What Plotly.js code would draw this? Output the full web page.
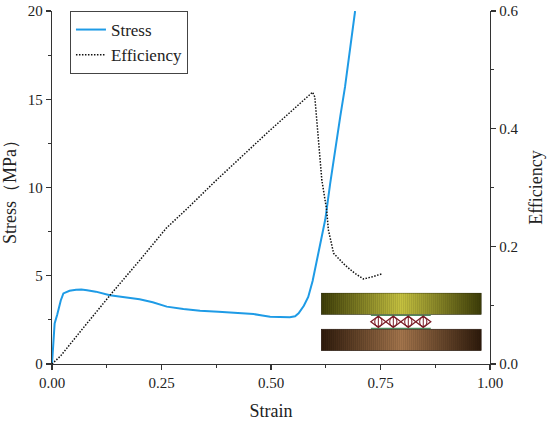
<!DOCTYPE html>
<html>
<head>
<meta charset="utf-8">
<script src="https://cdn.plot.ly/plotly-3.0.1.min.js"></script>
<style>
html,body{margin:0;padding:0;background:#fff;}
#chart{width:550px;height:421px;}
</style>
</head>
<body>
<div id="chart"></div>
<script>
// ---- data ----
const strainStress = [0, 0.003, 0.006, 0.012, 0.02, 0.026, 0.04, 0.055, 0.067, 0.08, 0.1, 0.132, 0.16, 0.2, 0.23, 0.262, 0.3, 0.338, 0.38, 0.414, 0.44, 0.46, 0.48, 0.498, 0.52, 0.543, 0.555, 0.563, 0.575, 0.585, 0.595, 0.605, 0.615, 0.624, 0.635, 0.646, 0.658, 0.669, 0.68, 0.692];
const stress = [0, 1.5, 2.3, 2.8, 3.6, 4.0, 4.15, 4.2, 4.22, 4.18, 4.1, 3.9, 3.8, 3.67, 3.5, 3.25, 3.12, 3.02, 2.96, 2.91, 2.9, 2.83, 2.75, 2.68, 2.66, 2.65, 2.7, 2.87, 3.3, 3.8, 4.7, 5.9, 7.0, 8.2, 10.2, 12.1, 14.0, 15.7, 17.8, 20.0];
const strainEff = [0, 0.02, 0.071, 0.136, 0.2, 0.261, 0.307, 0.376, 0.49, 0.595, 0.6, 0.616, 0.627, 0.631, 0.643, 0.669, 0.69, 0.711, 0.73, 0.752];
const efficiency = [0, 0.014, 0.061, 0.12, 0.176, 0.231, 0.263, 0.313, 0.392, 0.462, 0.454, 0.313, 0.262, 0.228, 0.188, 0.168, 0.155, 0.1445, 0.148, 0.153];
const strainTicks = [0, 0.25, 0.5, 0.75, 1.0];
const strainTickText = ["0.00", "0.25", "0.50", "0.75", "1.00"];
const seriesNames = ["Stress", "Efficiency"];

// ---- inset picture (decorative, drawn as inline SVG) ----
function insetSvg() {
  let cells = "";
  for (let i = 0; i < 4; i++) {
    const x0 = 50 + i * 15;
    cells += "<path d='M" + x0 + ",29 L" + (x0 + 7.5) + ",23.3 L" + (x0 + 15) + ",29 L" + (x0 + 7.5) + ",34.7 Z' fill='none' stroke='#7b1c26' stroke-width='1.3'/>";
    cells += "<ellipse cx='" + (x0 + 7.5) + "' cy='29' rx='3.6' ry='4.6' fill='none' stroke='#7b1c26' stroke-width='1.1'/>";
    cells += "<line x1='" + (x0 + 7.5) + "' y1='23.3' x2='" + (x0 + 7.5) + "' y2='34.7' stroke='#7b1c26' stroke-width='1'/>";
  }
  const svg = "<svg xmlns='http://www.w3.org/2000/svg' width='161' height='58' viewBox='0 0 161 58' preserveAspectRatio='none'>" +
    "<defs>" +
    "<linearGradient id='g1' x1='0' x2='1' y1='0' y2='0'><stop offset='0' stop-color='#3e3e08'/><stop offset='0.5' stop-color='#cbc742'/><stop offset='1' stop-color='#3e3e08'/></linearGradient>" +
    "<linearGradient id='g2' x1='0' x2='1' y1='0' y2='0'><stop offset='0' stop-color='#2e1a0b'/><stop offset='0.5' stop-color='#a8784e'/><stop offset='1' stop-color='#2e1a0b'/></linearGradient>" +
    "<pattern id='p' width='2' height='10' patternUnits='userSpaceOnUse'><rect width='1' height='10' fill='rgba(0,0,0,0.13)'/></pattern>" +
    "</defs>" +
    "<rect x='0.3' y='0.3' width='160.4' height='21.3' fill='url(#g1)' stroke='#2a2a10' stroke-width='0.6'/>" +
    "<rect x='0.3' y='0.3' width='160.4' height='21.3' fill='url(#p)'/>" +
    "<rect x='0.3' y='36.4' width='160.4' height='21.3' fill='url(#g2)' stroke='#24140a' stroke-width='0.6'/>" +
    "<rect x='0.3' y='36.4' width='160.4' height='21.3' fill='url(#p)'/>" +
    "<line x1='50' y1='22.6' x2='110' y2='22.6' stroke='#4f8a5c' stroke-width='1.1'/>" +
    "<line x1='50' y1='35.5' x2='110' y2='35.5' stroke='#4f8a5c' stroke-width='1.1'/>" +
    cells +
    "</svg>";
  return "data:image/svg+xml;charset=utf-8," + encodeURIComponent(svg);
}

const fontFam = "Liberation Serif, Times New Roman, serif";
const axisColor = "#333";

const traces = [
  {
    x: strainStress, y: stress, name: seriesNames[0], type: "scatter", mode: "lines",
    line: {color: "rgb(30,155,230)", width: 2}, yaxis: "y"
  },
  {
    x: strainEff, y: efficiency, name: seriesNames[1], type: "scatter", mode: "lines",
    line: {color: "#111", width: 1.5, dash: "1.5px,1.5px"}, yaxis: "y2"
  }
];

const layout = {
  width: 550, height: 421,
  margin: {l: 52, r: 60, t: 11, b: 57},
  paper_bgcolor: "#fff", plot_bgcolor: "#fff",
  font: {family: fontFam, size: 15, color: "#222"},
  showlegend: true,
  legend: {
    x: 0.041, y: 1, xanchor: "left", yanchor: "top",
    bordercolor: "#444", borderwidth: 1, bgcolor: "rgba(255,255,255,0)",
    font: {family: fontFam, size: 17, color: "#222"},
    tracegroupgap: 0
  },
  xaxis: {
    range: [0, 1], tickmode: "array", tickvals: strainTicks, ticktext: strainTickText,
    ticks: "outside", ticklen: 5, tickwidth: 1.2, tickcolor: axisColor,
    minor: {dtick: 0.125, tick0: 0, ticks: "outside", ticklen: 3, tickwidth: 1.2, tickcolor: axisColor, showgrid: false},
    showline: true, linecolor: axisColor, linewidth: 1.3, mirror: false,
    showgrid: false, zeroline: false,
    tickfont: {family: fontFam, size: 15, color: "#222"},
    title: {text: "Strain", font: {family: fontFam, size: 18, color: "#222"}, standoff: 14}
  },
  yaxis: {
    range: [0, 20], tickmode: "linear", tick0: 0, dtick: 5,
    ticks: "outside", ticklen: 5, tickwidth: 1.2, tickcolor: axisColor,
    minor: {dtick: 2.5, tick0: 0, ticks: "outside", ticklen: 3, tickwidth: 1.2, tickcolor: axisColor, showgrid: false},
    showline: true, linecolor: axisColor, linewidth: 1.3,
    showgrid: false, zeroline: false,
    tickfont: {family: fontFam, size: 15, color: "#222"},
    title: {text: "Stress（MPa）", font: {family: fontFam, size: 18, color: "#222"}, standoff: 8}
  },
  yaxis2: {
    range: [0, 0.6], tickmode: "linear", tick0: 0, dtick: 0.2, tickformat: ".1f",
    overlaying: "y", side: "right",
    ticks: "outside", ticklen: 5, tickwidth: 1.2, tickcolor: axisColor,
    minor: {dtick: 0.1, tick0: 0, ticks: "outside", ticklen: 3, tickwidth: 1.2, tickcolor: axisColor, showgrid: false},
    showline: true, linecolor: axisColor, linewidth: 1.3,
    showgrid: false, zeroline: false,
    tickfont: {family: fontFam, size: 15, color: "#222"},
    title: {text: "Efficiency", font: {family: fontFam, size: 18, color: "#222"}, standoff: 12}
  },
  images: [{
    source: insetSvg(), xref: "x", yref: "y",
    x: 0.614, y: 4.04, sizex: 0.367, sizey: 3.3,
    xanchor: "left", yanchor: "top", sizing: "stretch", layer: "above"
  }]
};

Plotly.newPlot("chart", traces, layout, {staticPlot: true, displayModeBar: false});
</script>
</body>
</html>
